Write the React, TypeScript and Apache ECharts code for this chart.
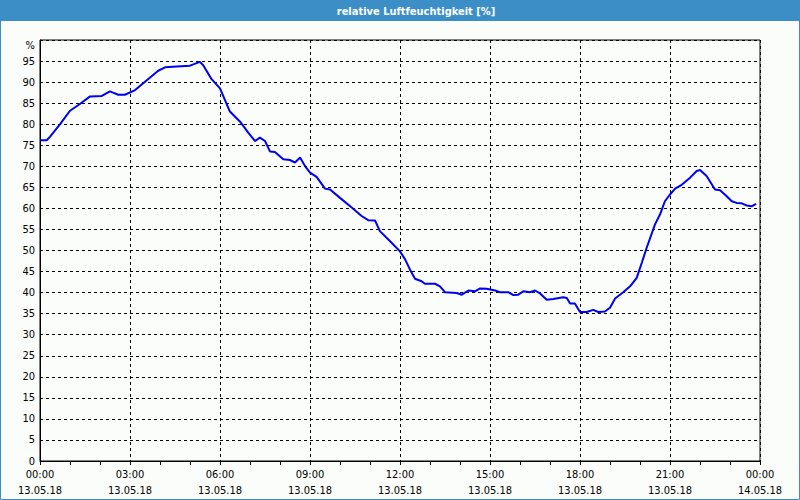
import React, { useEffect, useRef } from "react";
import * as echarts from "echarts";

const titleText = "relative Luftfeuchtigkeit [%]";
const hours = [
  0, 0.22, 0.33, 0.67, 1.0, 1.33, 1.67, 2.06, 2.33, 2.61, 2.83, 3.17, 3.5, 3.94, 4.17, 4.56, 5.0, 5.33, 5.44, 5.72,
  6.0, 6.33, 6.67, 6.94, 7.17, 7.33, 7.5, 7.67, 7.83, 8.11, 8.33, 8.5, 8.67, 8.83, 9.0, 9.22, 9.5, 9.67, 10.0,
  10.39, 10.72, 10.94, 11.17, 11.33, 11.67, 12.0, 12.17, 12.33, 12.5, 12.72, 12.83, 13.17, 13.33, 13.5, 13.89,
  14.06, 14.28, 14.5, 14.67, 14.89, 15.17, 15.33, 15.61, 15.78, 15.94, 16.11, 16.33, 16.5, 16.67, 16.89, 17.11,
  17.44, 17.56, 17.67, 17.83, 18.0, 18.22, 18.44, 18.61, 18.83, 19.0, 19.17, 19.44, 19.67, 19.89, 20.06, 20.22,
  20.5, 20.67, 20.83, 21.0, 21.17, 21.39, 21.67, 21.89, 22.0, 22.22, 22.5, 22.67, 22.89, 23.06, 23.22, 23.39,
  23.56, 23.72, 23.87,
];
const humidity = [
  76.2, 76.2, 77, 80, 83.2, 84.8, 86.6, 86.7, 87.8, 87, 87, 88.1, 90.1, 92.7, 93.5, 93.7, 93.9, 94.8, 94, 90.7,
  88.5, 83, 80.6, 78, 76, 76.8, 76, 73.5, 73.4, 71.7, 71.5, 70.9, 72.1, 70.1, 68.5, 67.5, 64.7, 64.5, 62.5,
  60.2, 58.2, 57.2, 57.1, 54.6, 52.2, 49.8, 47.9, 45.5, 43.3, 42.7, 42.1, 42.1, 41.5, 40.1, 39.9,
  39.5, 40.5, 40.3, 41, 40.9, 40.5, 40.1, 40.1, 39.4, 39.5, 40.3, 40.1, 40.5, 39.8, 38.3, 38.5,
  38.9, 38.7, 37.4, 37.4, 35.4, 35.4, 35.9, 35.4, 35.5, 36.4, 38.6, 40.1, 41.5, 43.5, 47.1, 50.6,
  56.2, 58.6, 61.7, 63.3, 64.7, 65.6, 67.3, 68.9, 69.1, 67.7, 64.5, 64.3, 62.9, 61.7, 61.3, 61.2,
  60.7, 60.5, 61.1,
];
const dayLabels = ["13.05.18", "14.05.18"];

const FONT = "'DejaVu Sans Condensed', 'Liberation Sans', sans-serif";
const BLUE = "#3c8fc6";

export default function App() {
  const ref = useRef<HTMLDivElement>(null);
  useEffect(() => {
    document.body.style.margin = "0";
    const chart = echarts.init(ref.current!, null, { renderer: "svg" });
    const pad = (n: number) => (n < 10 ? "0" + n : "" + n);
    chart.setOption({
      animation: false,
      backgroundColor: "#fbfdfb",
      textStyle: { fontFamily: FONT },
      graphic: [
        { type: "rect", shape: { x: 0, y: 0, width: 800, height: 21 }, style: { fill: BLUE } },
        {
          type: "rect",
          shape: { x: 0.5, y: 0.5, width: 799, height: 499 },
          style: { fill: "none", stroke: BLUE, lineWidth: 1 },
        },
        {
          type: "text",
          x: 416,
          y: 11,
          style: {
            text: titleText,
            fill: "#ffffff",
            font: `bold 11px ${FONT}`,
            textAlign: "center",
            textVerticalAlign: "middle",
          },
        },
      ],
      grid: {
        left: 40,
        right: 40,
        top: 40,
        bottom: 39,
        show: true,
        borderColor: "#000",
        borderWidth: 1,
        backgroundColor: "#fbfdfb",
      },
      xAxis: {
        type: "value",
        min: 0,
        max: 24,
        interval: 3,
        axisLine: { show: true, lineStyle: { color: "#000", width: 1 } },
        axisTick: { show: true, length: 4, lineStyle: { color: "#000" } },
        minorTick: { show: true, splitNumber: 3, length: 4, lineStyle: { color: "#000" } },
        splitLine: { show: true, lineStyle: { color: "#000", type: [3, 3], width: 1 } },
        axisLabel: {
          color: "#000",
          fontSize: 11,
          fontFamily: FONT,
          lineHeight: 16,
          margin: 5,
          formatter: (v: number) => {
            const h = Math.round(v) % 24;
            const day = v >= 24 ? dayLabels[1] : dayLabels[0];
            return pad(h) + ":00\n" + day;
          },
        },
      },
      yAxis: {
        type: "value",
        min: 0,
        max: 100,
        interval: 5,
        axisLine: { show: true, lineStyle: { color: "#000", width: 1 } },
        axisTick: { show: false },
        splitLine: { show: true, lineStyle: { color: "#000", type: [3, 3], width: 1 } },
        axisLabel: {
          color: "#000",
          fontSize: 11,
          fontFamily: FONT,
          margin: 5,
          formatter: (v: number) => (v === 100 ? "{p|%}" : String(v)),
          rich: { p: { fontSize: 11, fontFamily: FONT, color: "#000", padding: [10, 0, 0, 0] } },
        },
      },
      series: [
        {
          type: "line",
          showSymbol: false,
          data: hours.map((h, i) => [h, humidity[i]]),
          lineStyle: { color: "#0000f0", width: 2 },
          itemStyle: { color: "#0000f0" },
        },
      ],
    });
    return () => chart.dispose();
  }, []);
  return <div ref={ref} style={{ width: 800, height: 500 }} />;
}
